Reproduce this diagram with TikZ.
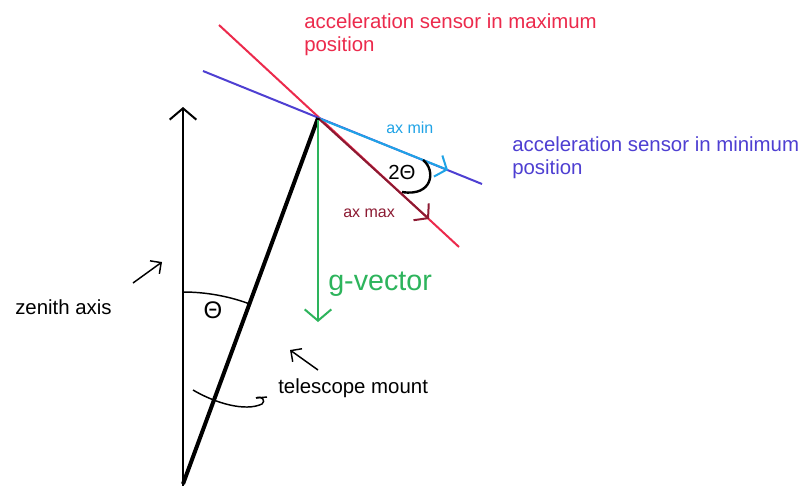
\documentclass[tikz,border=0pt]{standalone}
\usepackage{fontspec}
\setmainfont{Liberation Sans}
\usetikzlibrary{arrows.meta}
\definecolor{sred}{HTML}{EC2A4C}
\definecolor{sblue}{HTML}{4E3FD2}
\definecolor{scyan}{HTML}{1FA3E6}
\definecolor{sdark}{HTML}{8C1A32}
\definecolor{sgreen}{HTML}{2DB45C}
\tikzset{
  ln/.style={line width=1.5pt},
  bigbarb/.style={-{Straight Barb[length=8.5pt,width=20pt,line width=1.5pt]}},
  smallbarb/.style={-{Straight Barb[length=7pt,width=17pt,line width=1.5pt]}},
  ptr/.style={line width=1.1pt,-{Straight Barb[length=6pt,width=12pt,line width=1.1pt]}},
  lbl/.style={inner sep=0pt,font=\fontsize{15.3}{17.25}\selectfont},
  small/.style={inner sep=0pt,font=\fontsize{12}{14}\selectfont}
}
\begin{document}
\begin{tikzpicture}[x=0.75pt,y=-0.75pt]
\useasboundingbox (0,0) rectangle (805,486);
\fill[white] (0,0) rectangle (805,486);
% key points
\coordinate (P) at (318,118);
\coordinate (B) at (183,486);
\coordinate (Z) at (183,107);
\coordinate (R1) at (219,25);
\coordinate (R2) at (459,247);
\coordinate (L1) at (203,71);
\coordinate (L2) at (482,184);
\coordinate (Amin) at (448,170);
\coordinate (Amax) at (429,219);
\coordinate (G0) at (318,120);
\coordinate (G) at (318,322);
% sensor lines
\draw[ln,sred] (R1) -- (R2);
\draw[ln,sblue] (L1) -- (L2);
\draw[ln,scyan,smallbarb] (P) -- (Amin);
\draw[ln,sdark,smallbarb] (P) -- (Amax);
% zenith axis and mount
\draw[ln,black,bigbarb] (B) -- (Z);
\draw[line width=3pt,black] (183,484) -- (P);
% g vector
\draw[ln,sgreen,bigbarb] (G0) -- (G);
% angle arcs
\draw[line width=1.1pt] (183,292) .. controls (205.6,292) and (228.1,296) .. (249.3,303.8);
\draw[line width=1.8pt] (423,160) .. controls (436,170) and (433,197) .. (402,192);
% rotation arrow
\draw[line width=1.1pt] (193,390) .. controls (215,403) and (245,412) .. (262,404)
  .. controls (266,401) and (262,395) .. (256,398);
\draw[line width=1.1pt] (256,398) -- (267,397);
% pointers
\coordinate (zp0) at (133,283); \coordinate (zp1) at (162,262);
\coordinate (tp0) at (318,370); \coordinate (tp1) at (290,350);
\draw[ptr] (zp0) -- (zp1);
\draw[ptr] (tp0) -- (tp1);
% labels
\node[lbl,sred,anchor=north west,align=left] (tmax) at (304,13) {acceleration sensor in maximum\\position};
\node[lbl,sblue,anchor=north west,align=left] (tmin) at (512,136) {acceleration sensor in minimum\\position};
\node[small,scyan,anchor=base west] (axmin) at (386,133) {ax min};
\node[small,sdark,anchor=base west] (axmax) at (343,217) {ax max};
\node[lbl,anchor=center] (two) at (402,172) {2Θ};
\node[inner sep=0pt,font=\fontsize{18}{20}\selectfont,anchor=center] (th) at (213,310) {Θ};
\node[inner sep=0pt,sgreen,font=\fontsize{21.5}{24}\selectfont,anchor=base west] (gv) at (328,290) {g-vector};
\node[lbl,anchor=base west] (zen) at (15,314) {zenith axis};
\node[lbl,anchor=base west] (tel) at (278,393) {telescope mount};
\end{tikzpicture}
\end{document}
